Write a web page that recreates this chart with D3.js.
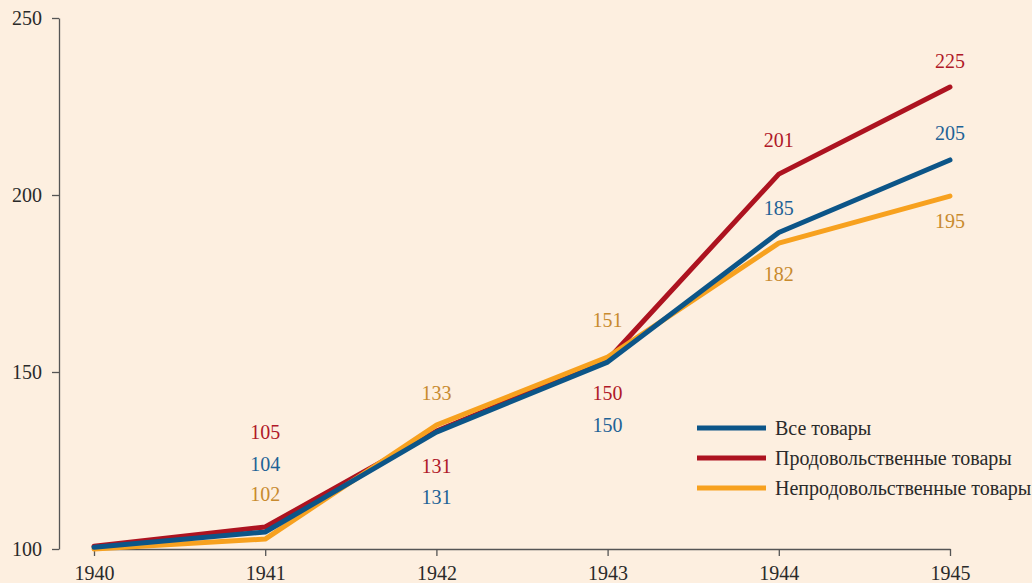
<!DOCTYPE html>
<html>
<head>
<meta charset="utf-8">
<script src="https://cdn.jsdelivr.net/npm/d3@7"></script>
<style>
  html, body { margin: 0; padding: 0; background: #fdefe0; }
  svg { display: block; font-family: "Liberation Serif", "DejaVu Serif", serif; }
</style>
</head>
<body>
<div id="chart"></div>
<script>
// data
var years = [1940, 1941, 1942, 1943, 1944, 1945];
var yTicks = [100, 150, 200, 250];

var seriesNames = ["Все товары", "Продовольственные товары", "Непродовольственные товары"];

// line values (as drawn)
var allGoods = [100.5, 104.8, 133, 152.8, 189.4, 209.9];
var foodGoods = [100.8, 106.2, 133.3, 153.4, 205.9, 230.5];
var nonFoodGoods = [100, 102.8, 135, 154.2, 186.4, 199.7];

// printed labels
var allLabels = [null, 104, 131, 150, 185, 205];
var foodLabels = [null, 105, 131, 150, 201, 225];
var nonFoodLabels = [null, 102, 133, 151, 182, 195];

var width = 1032, height = 583;

var x = d3.scaleLinear().domain([1940, 1945]).range([94, 950]);
var y = d3.scaleLinear().domain([100, 250]).range([549, 18]);

var svg = d3.select("#chart").append("svg")
    .attr("width", width)
    .attr("height", height);

svg.append("rect")
    .attr("width", width).attr("height", height)
    .attr("fill", "#fdefe0");

// axes
var yAxis = d3.axisLeft(y).tickValues(yTicks).tickSize(7).tickPadding(10).tickSizeOuter(0);
var gy = svg.append("g").attr("transform", "translate(59,0)").call(yAxis);

var xAxis = d3.axisBottom(x).tickValues(years).tickFormat(d3.format("d")).tickSize(7).tickPadding(10).tickSizeOuter(0);
var gx = svg.append("g").attr("transform", "translate(0,549)").call(xAxis);

[gx, gy].forEach(function(g) {
    g.select(".domain").attr("stroke", "#555").attr("stroke-width", 1.3);
    g.selectAll(".tick line").attr("stroke", "#555").attr("stroke-width", 1.3);
    g.selectAll(".tick text").attr("fill", "#2a2a2a").style("font-size", "20px")
        .style("font-family", "'Liberation Serif', serif");
});

// label offsets in px from the line point (layout only)
var series = [
    { name: seriesNames[1], values: foodGoods, labels: foodLabels, color: "#ad1320", text: "#b01828",
      offsets: [0, -95, 35, 33, -34, -26] },
    { name: seriesNames[2], values: nonFoodGoods, labels: nonFoodLabels, color: "#f7a11f", text: "#c88a2e",
      offsets: [0, -45, -32, -37, 31, 25] },
    { name: seriesNames[0], values: allGoods, labels: allLabels, color: "#0c5588", text: "#1e6296",
      offsets: [0, -68, 65, 63, -25, -27] }
];

var line = d3.line()
    .x(function(d, i) { return x(years[i]); })
    .y(function(d) { return y(d); });

series.forEach(function(s) {
    svg.append("path")
        .datum(s.values)
        .attr("fill", "none")
        .attr("stroke", s.color)
        .attr("stroke-width", 5)
        .attr("stroke-linejoin", "round")
        .attr("stroke-linecap", "round")
        .attr("d", line);
});

// value labels
series.forEach(function(s) {
    var pts = s.labels.map(function(d, i) { return { v: d, i: i }; })
        .filter(function(p) { return p.v !== null; });
    svg.append("g").selectAll("text")
        .data(pts)
        .enter().append("text")
        .attr("x", function(p) { return x(years[p.i]); })
        .attr("y", function(p) { return y(s.values[p.i]) + s.offsets[p.i]; })
        .attr("dy", "0.35em")
        .attr("text-anchor", "middle")
        .attr("fill", s.text)
        .style("font-size", "20px")
        .text(function(p) { return p.v; });
});

// legend
var legendOrder = [
    { name: seriesNames[0], color: "#0c5588" },
    { name: seriesNames[1], color: "#ad1320" },
    { name: seriesNames[2], color: "#f7a11f" }
];
var legend = svg.append("g").attr("transform", "translate(697,428)");
var item = legend.selectAll("g").data(legendOrder).enter().append("g")
    .attr("transform", function(d, i) { return "translate(0," + (i * 30) + ")"; });
item.append("line")
    .attr("x1", 0).attr("x2", 69)
    .attr("stroke", function(d) { return d.color; })
    .attr("stroke-width", 5);
item.append("text")
    .attr("x", 78)
    .attr("dy", "0.35em")
    .attr("fill", "#2a2a2a")
    .style("font-size", "20px")
    .text(function(d) { return d.name; });
</script>
</body>
</html>
